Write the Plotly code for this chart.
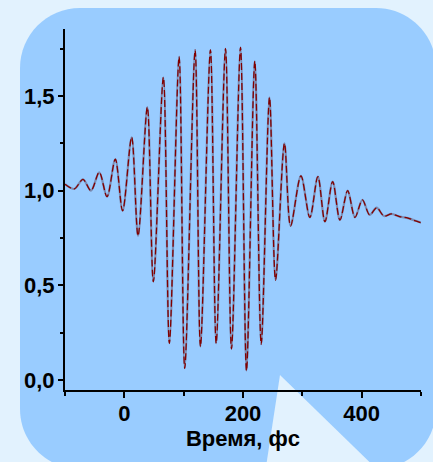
import plotly.graph_objects as go

# Time axis (fs) and normalised signal, read at the turning points of the trace
time_fs = [-100, -84.4, -69.7, -56.2, -42.2, -29.2, -15.2, -2.9, 12.3, 23.1,
           38.8, 48.9, 65.8, 75.9, 92.3, 101.8, 119.3, 128.3, 145.1, 154.8,
           170.5, 180.6, 195.8, 205.9, 219.9, 230.7, 244.7, 254.9, 269.9, 280.2,
           297.6, 312.7, 326.2, 338.1, 351.1, 363.4, 376.4, 388.7, 401.2, 413.5,
           425.3, 437.6, 450.1, 464.0, 478.1, 489.4, 500.0]
signal = [1.034, 1.009, 1.060, 1.000, 1.097, 0.968, 1.166, 0.894, 1.282, 0.761,
          1.441, 0.519, 1.599, 0.194, 1.708, 0.062, 1.743, 0.176, 1.743, 0.194,
          1.750, 0.164, 1.757, 0.049, 1.684, 0.189, 1.493, 0.528, 1.250, 0.814,
          1.078, 0.859, 1.074, 0.836, 1.048, 0.845, 1.000, 0.859, 0.951, 0.872,
          0.910, 0.866, 0.877, 0.863, 0.855, 0.842, 0.831]

y_tick_vals = [0.0, 0.5, 1.0, 1.5]
x_tick_vals = [0, 200, 400]
x_title = "Время, фс"

W, H = 433, 462
L, R, T, B = 65, 12, 29, 72
PW, PH = W - L - R, H - T - B

OUTER = "#E2F2FE"
PANEL = "#99CCFF"
FONT = "Liberation Sans, Arial, sans-serif"


def px(x):
    return (x - L) / PW


def py(y):
    return (H - B - y) / PH


def pt(x, y):
    return f"{px(x):.5f},{py(y):.5f}"


def rounded_rect(x0, y0, x1, y1, r):
    k = 0.5523 * r
    return (
        f"M {pt(x0 + r, y0)} L {pt(x1 - r, y0)} "
        f"C {pt(x1 - r + k, y0)} {pt(x1, y0 + r - k)} {pt(x1, y0 + r)} "
        f"L {pt(x1, y1 - r)} "
        f"C {pt(x1, y1 - r + k)} {pt(x1 - r + k, y1)} {pt(x1 - r, y1)} "
        f"L {pt(x0 + r, y1)} "
        f"C {pt(x0 + r - k, y1)} {pt(x0, y1 - r + k)} {pt(x0, y1 - r)} "
        f"L {pt(x0, y0 + r)} "
        f"C {pt(x0, y0 + r - k)} {pt(x0 + r - k, y0)} {pt(x0 + r, y0)} Z"
    )


fig = go.Figure()

# two-tone trace: blue-grey body with a dashed dark-red core
fig.add_trace(go.Scatter(
    x=time_fs, y=signal, mode="lines",
    line=dict(color="rgb(122,140,180)", width=2.2, shape="spline", smoothing=0.9),
    hoverinfo="skip", showlegend=False,
))
fig.add_trace(go.Scatter(
    x=time_fs, y=signal, mode="lines",
    line=dict(color="#800000", width=1.3, shape="spline", smoothing=0.9, dash="7px,3px"),
    hoverinfo="skip", showlegend=False,
))

shapes = [
    dict(type="path", xref="paper", yref="paper", layer="below",
         path=rounded_rect(20, 8, 436, 469, 60),
         fillcolor=PANEL, line=dict(width=0)),
    dict(type="path", xref="paper", yref="paper", layer="below",
         path=f"M {pt(280, 375)} L {pt(264, 480)} L {pt(388, 480)} Z",
         fillcolor=OUTER, line=dict(width=0)),
]

tick_font = dict(family=FONT, size=22, color="black", weight="bold")

fig.update_layout(
    width=W, height=H,
    margin=dict(l=L, r=R, t=T, b=B, pad=0),
    paper_bgcolor=OUTER,
    plot_bgcolor="rgba(0,0,0,0)",
    separators=",.",
    shapes=shapes,
    xaxis=dict(
        range=[-100, 500], tickvals=x_tick_vals,
        ticks="outside", ticklen=6, tickwidth=2, tickcolor="black",
        minor=dict(dtick=100, tick0=0, ticks="outside", ticklen=4,
                   tickwidth=2, tickcolor="black", showgrid=False),
        showline=True, linewidth=2, linecolor="black",
        showgrid=False, zeroline=False,
        tickfont=tick_font, ticklabelstandoff=-3,
        title=dict(text=x_title, standoff=4,
                   font=dict(family=FONT, size=22, color="black", weight="bold")),
    ),
    yaxis=dict(
        range=[-0.053, 1.854], tickvals=y_tick_vals, tickformat=".1f",
        ticks="outside", ticklen=5, tickwidth=2, tickcolor="black",
        minor=dict(dtick=0.25, tick0=0, ticks="outside", ticklen=3,
                   tickwidth=2, tickcolor="black", showgrid=False),
        showline=True, linewidth=2, linecolor="black",
        showgrid=False, zeroline=False,
        tickfont=tick_font, ticklabelstandoff=-1,
    ),
)

fig.write_html("out.html", config={"displayModeBar": False})
